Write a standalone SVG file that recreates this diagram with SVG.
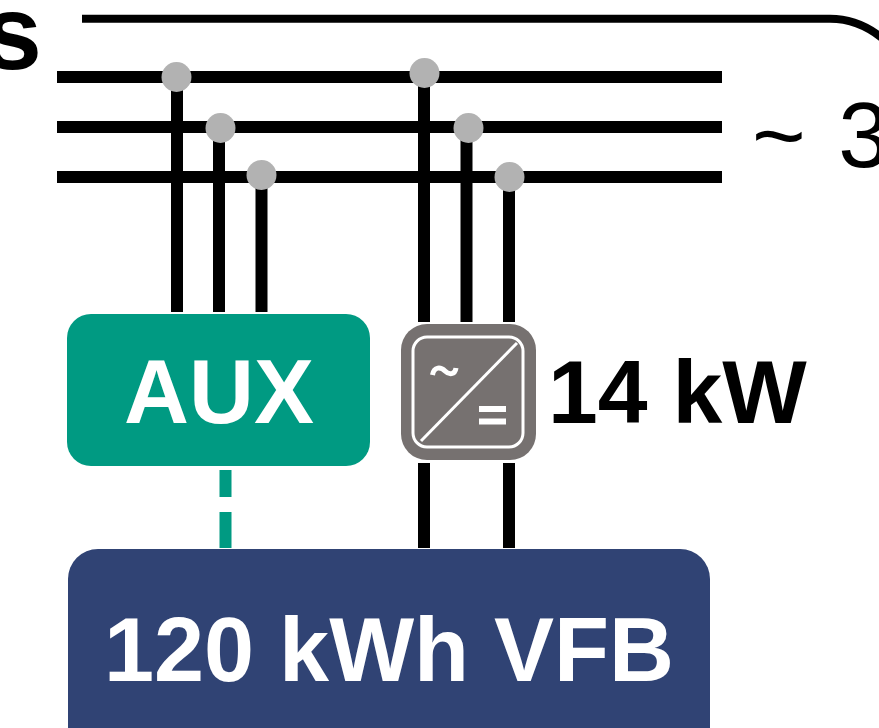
<svg xmlns="http://www.w3.org/2000/svg" width="879" height="728" viewBox="0 0 879 728">
<style>
.w{stroke:#000;stroke-width:12;fill:none}
.d{fill:#b2b2b2}
text{font-family:"Liberation Sans",Arial,sans-serif}
.b{font-weight:700}
.i{fill:none;stroke:#fff;stroke-width:3}
</style>
<rect width="879" height="728" fill="#fff"/>
<g id="connectors">
<path d="M82 18.800H830Q858 18.800 882 38" fill="none" stroke="#000" stroke-width="8"/>
<path class="w" d="M57 77H722M57 127H722M57 177H722"/>
<path class="w" d="M177 77V312M219 128V312M261.500 175V312M424 73V322M466.500 128V322M509 177V322M424 463V548M509 463V548"/>
<path d="M225.500 470V548" fill="none" stroke="#009a82" stroke-width="12" stroke-dasharray="27 15 40"/>
</g>
<g id="dots">
<circle class="d" cx="176.500" cy="77" r="15"/>
<circle class="d" cx="220.500" cy="128" r="15"/>
<circle class="d" cx="261.500" cy="175" r="15"/>
<circle class="d" cx="424.500" cy="73" r="15"/>
<circle class="d" cx="468.500" cy="128" r="15"/>
<circle class="d" cx="509.500" cy="177" r="15"/>
</g>
<g id="label-s"><text class="b" x="-17" y="69" font-size="106">s</text></g>
<g id="label-3"><text x="752" y="167" font-size="92">~ <tspan dx="7">3</tspan></text></g>
<g id="aux">
<rect x="67" y="314" width="303" height="152" rx="24" fill="#009a82"/>
<text class="b" x="219" y="423" font-size="90" fill="#fff" text-anchor="middle">AUX</text>
</g>
<g id="inverter">
<rect x="401" y="324" width="135" height="136" rx="26" fill="#767170"/>
<rect class="i" x="413" y="337" width="110" height="110" rx="14"/>
<path class="i" d="M421 441L517 343"/>
<path d="M432.500 375C434 366 441 367 445 371C449 375 455 375 456 368" fill="none" stroke="#fff" stroke-width="5"/>
<path d="M479 409H506M479 421.500H506" fill="none" stroke="#fff" stroke-width="6"/>
</g>
<g id="label-14kw"><text class="b" x="548" y="423" font-size="89.500">14 kW</text></g>
<g id="vfb">
<rect x="68" y="549" width="642" height="220" rx="30" fill="#304374"/>
<text class="b" x="389" y="681" font-size="90" fill="#fff" text-anchor="middle">120 kWh VFB</text>
</g>
</svg>
